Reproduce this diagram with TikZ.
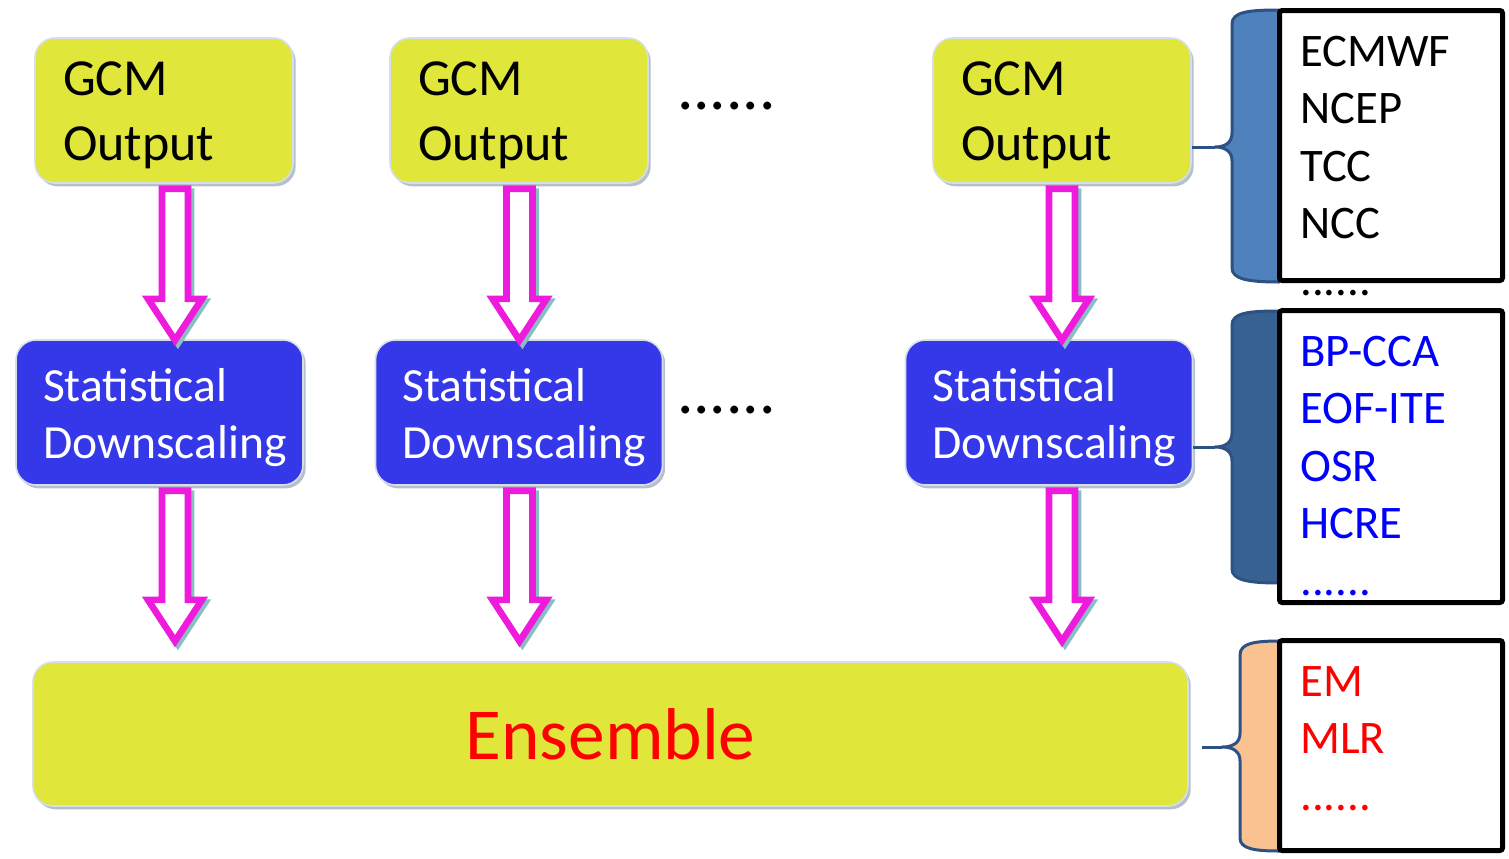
\documentclass[tikz,border=0pt]{standalone}
\usepackage{fontspec}
\setmainfont{Carlito}
\usetikzlibrary{calc,shadows}

\definecolor{gcmyellow}{HTML}{E1E63B}
\definecolor{sdblue}{HTML}{3538E8}
\definecolor{panelrim}{HTML}{D6DEEA}
\definecolor{boxshade}{HTML}{AEB9C8}
\definecolor{arrowpink}{HTML}{EE1BDD}
\definecolor{arrowshade}{HTML}{88BFC2}
\definecolor{braceline}{HTML}{2C5182}
\definecolor{bracefillA}{HTML}{4F81BD}
\definecolor{bracefillB}{HTML}{376191}
\definecolor{bracefillC}{HTML}{FAC191}
\definecolor{listblue}{HTML}{0000FF}
\definecolor{listred}{HTML}{FF0000}

% hollow block arrow running down from #1 to #2;
% #3 = horizontal offset from the source centre, #4 = tip offset from the target top
\newcommand\blockarrow[4]{%
  \draw[flowarrow] let \p1=($(#1.south)+(#3,5)$), \p2=($(#2.north)+(0,#4)$) in
    (\x1-9.75pt,\y1) -- (\x1+9.75pt,\y1) -- (\x1+9.75pt,\y2+31pt)
    -- (\x1+20.25pt,\y2+31pt) -- (\x1,\y2) -- (\x1-20.25pt,\y2+31pt)
    -- (\x1-9.75pt,\y2+31pt) -- cycle;}

\begin{document}
\begin{tikzpicture}[x=0.75pt,y=-0.75pt,
  panel/.style={rounded corners=15pt, draw=panelrim, line width=1.2pt,
    drop shadow={shadow xshift=2pt, shadow yshift=-2.5pt, fill=boxshade, opacity=0.9}},
  gcmbox/.style={panel, fill=gcmyellow, minimum width=193.5pt, minimum height=108.75pt,
    text width=151.5pt, inner xsep=21pt, inner ysep=0pt, align=left,
    font=\fontsize{39}{48.75}\selectfont, text height=25pt, text depth=48.25pt},
  sdbox/.style={panel, fill=sdblue, text=white, minimum width=215.25pt, minimum height=108.75pt,
    text width=174.75pt, inner xsep=20.25pt, inner ysep=0pt, align=left,
    font=\fontsize{35.7}{42.75}\selectfont,
    execute at begin node={\hyphenpenalty=10000\relax},
    text height=24pt, text depth=40.2pt},
  ensbox/.style={panel, fill=gcmyellow, text=listred, minimum width=866.25pt,
    minimum height=108pt, font=\fontsize{55}{66}\selectfont},
  ellipsis/.style={anchor=base, inner sep=0pt, font=\fontsize{49}{58}\selectfont},
  listbox/.style={draw=black, fill=white, line width=3.75pt, rounded corners=2pt,
    minimum width=167.25pt},
  % the reference point of a list is the baseline of its last line
  listtext/.style={anchor=north west, inner sep=0pt, align=left, text height=0pt,
    text depth=0pt, font=\fontsize{35}{43.1}\selectfont},
  brace/.style={draw=braceline, line width=2.25pt, line join=round},
  flowarrow/.style={draw=arrowpink, fill=white, line width=5pt, line join=miter,
    preaction={draw=arrowshade, line width=5pt,
      transform canvas={shift={(2.2pt,-2.2pt)}}}}]
\useasboundingbox (0,0) rectangle (1509,858);

% model outputs
\node[gcmbox] (g1) at (164,110.5) {GCM\\Output};
\node[gcmbox] (g2) at (519,110.5) {GCM\\Output};
\node[gcmbox] (g3) at (1062,110.5) {GCM\\Output};
\node[ellipsis] (d1) at (726.5,109) {......};

% downscaling step
\node[sdbox] (s1) at (159.5,412.5) {Statistical\\Downscaling};
\node[sdbox] (s2) at (519,412.5) {Statistical\\Downscaling};
\node[sdbox] (s3) at (1049,412.5) {Statistical\\Downscaling};
\node[ellipsis] (d2) at (726.5,413) {......};

% combination
\node[ensbox] (e) at (610.5,734) {Ensemble};

% braces gathering each row into its list
\filldraw[brace, fill=bracefillA] (1279,10) .. controls (1248,10) and (1232,12) .. (1232,24)
  -- (1232,133) .. controls (1232,142) and (1226,147) .. (1215,147)
  .. controls (1226,147) and (1232,152) .. (1232,161)
  -- (1232,268) .. controls (1232,279) and (1248,282) .. (1279,282) -- cycle;
\coordinate (c1) at (1215,147);
\draw[brace] (c1) -- (g3.east |- c1);

\filldraw[brace, fill=bracefillB] (1279,311) .. controls (1248,311) and (1232,313) .. (1232,325)
  -- (1232,433) .. controls (1232,442) and (1226,447) .. (1215,447)
  .. controls (1226,447) and (1232,452) .. (1232,461)
  -- (1232,569) .. controls (1232,580) and (1248,583) .. (1279,583) -- cycle;
\coordinate (c2) at (1215,447);
\draw[brace] (c2) -- (s3.east |- c2);

\filldraw[brace, fill=bracefillC] (1280,641) .. controls (1255,641) and (1240,643) .. (1240,655)
  -- (1240,733) .. controls (1240,742) and (1234,747) .. (1222,747)
  .. controls (1234,747) and (1240,752) .. (1240,761)
  -- (1240,838) .. controls (1240,849) and (1255,851) .. (1280,851) -- cycle;
\coordinate (c3) at (1222,747);
\coordinate (e3) at (1202,747);
\draw[brace] (c3) -- (e3);

% method lists
\node[listbox, minimum height=202.5pt] (r1) at (1391,145.5) {};
\node[listbox, minimum height=219pt] (r2) at (1391,456.5) {};
\node[listbox, minimum height=157.5pt] (r3) at (1391,745.5) {};
\node[listtext] (l1) at (1300,295) {ECMWF\\NCEP\\TCC\\NCC\\......};
\node[listtext, text=listblue] (l2) at (1300,595) {BP-CCA\\EOF-ITE\\OSR\\HCRE\\......};
\node[listtext, text=listred] (l3) at (1300,810) {EM\\MLR\\......};

% flow arrows
\blockarrow{g1}{s1}{11}{1}
\blockarrow{g2}{s2}{0.5}{1}
\blockarrow{g3}{s3}{0}{1}
\blockarrow{s1}{e}{15.5}{-20}
\blockarrow{s2}{e}{0.5}{-20}
\blockarrow{s3}{e}{13}{-20}
\end{tikzpicture}
\end{document}
